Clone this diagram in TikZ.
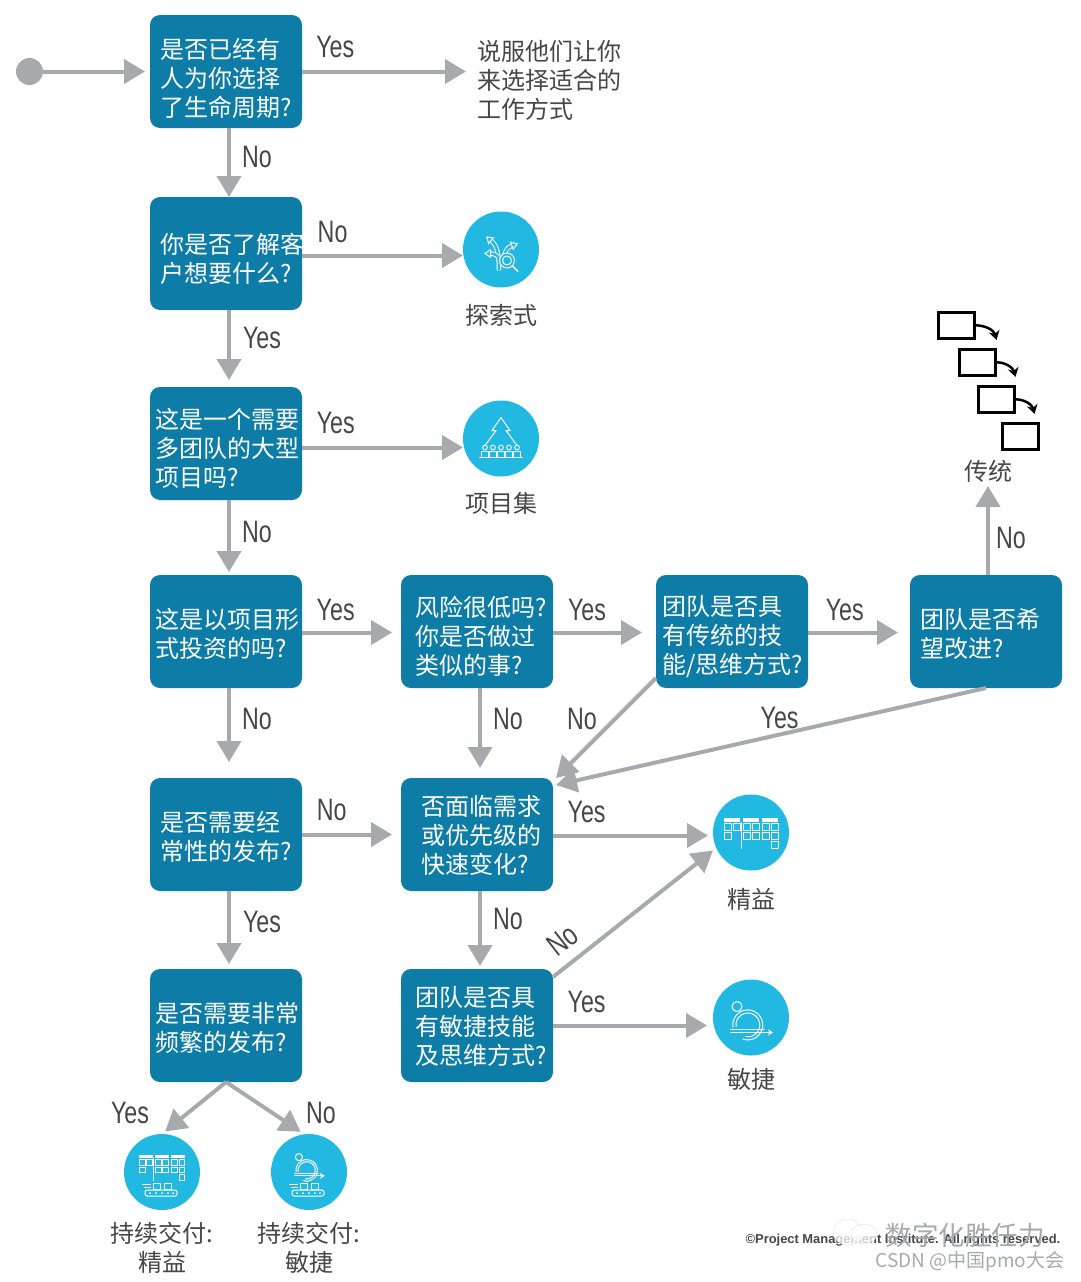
\documentclass[tikz,border=0pt]{standalone}
\usepackage{fontspec}
\setmainfont{Noto Sans CJK SC}
\newfontfamily\latinfont[FakeStretch=0.75]{Liberation Sans}
\newfontfamily\creditfont{Liberation Sans}
\usetikzlibrary{positioning, arrows.meta, calc}
\definecolor{boxblue}{RGB}{13,125,167}
\definecolor{iconblue}{RGB}{33,184,226}
\definecolor{arrowgray}{RGB}{167,169,172}
\definecolor{textgray}{RGB}{70,70,72}
\newcommand{\cjksize}{\fontsize{24}{29}\selectfont\lineskiplimit=-30pt\relax}

% Icons inside the round outcomes
\newcommand{\leanicon}[1]{\begin{scope}[#1, white, line width=1pt]
    \foreach \hx in {-27,-8,11} \fill (\hx pt,11pt) rectangle ++(16pt,3.5pt);
    \foreach \sx/\sy in {-27/2,-18/2,-27/-7,-8/2,1/2,-8/-7,1/-7,11/2,20/2,11/-7,20/-7,20/-16}
        \draw (\sx pt,\sy pt) rectangle ++(7pt,7pt);
    \draw (-10pt,11pt) -- (-10pt,-16pt);
\end{scope}}
\newcommand{\agileicon}[1]{\begin{scope}[#1, white, line width=1pt]
    \draw (-18pt,-10pt) arc[start angle=190, end angle=-110, radius=15pt];
    \draw (-15pt,-9.5pt) arc[start angle=190, end angle=-100, radius=12pt];
    \draw[fill=iconblue] (-14pt,11pt) circle (5pt);
    \draw[-{Stealth[length=5pt,width=6pt]}] (-21pt,-15pt) -- (22pt,-15pt);
    \draw (-21pt,-12pt) -- (14pt,-12pt);
\end{scope}}
\newcommand{\conveyoricon}[1]{\begin{scope}[#1, white, line width=1pt]
    \draw[rounded corners=2pt] (-17pt,-24pt) rectangle (15pt,-18pt);
    \foreach \dx in {-12,-6,0,6,11} \fill (\dx pt,-21pt) circle (1pt);
    \draw (-9pt,-17pt) rectangle ++(7pt,6pt);
    \draw (2pt,-17pt) rectangle ++(7pt,6pt);
    \draw[line width=.8pt] (-20pt,-12pt) -- (-11pt,-12pt) (-18pt,-15pt) -- (-11pt,-15pt);
\end{scope}}
\newcommand{\exploreicon}[1]{\begin{scope}[#1, white, line width=1pt, line join=round]
    \draw[double=iconblue, double distance=2.5pt, -{Triangle[open, length=7pt, width=9pt, fill=iconblue]}] (-2pt,-21pt) .. controls (-2pt,-4pt) and (-4pt,4pt) .. (-15pt,13pt);
    \draw[double=iconblue, double distance=2.5pt, -{Triangle[open, length=7pt, width=9pt, fill=iconblue]}] (3pt,-12pt) .. controls (3pt,-2pt) and (6pt,2pt) .. (17pt,6pt);
    \draw[double=iconblue, double distance=2.5pt, -{Triangle[open, length=7pt, width=9pt, fill=iconblue]}] (-3pt,-7pt) .. controls (-5pt,-5pt) and (-8pt,-4pt) .. (-17pt,-4pt);
    \draw[fill=iconblue] (6pt,-11pt) circle (7.5pt);
    \draw (6pt,-11pt) circle (4.5pt);
    \draw[line width=1.6pt] (11.5pt,-16.5pt) -- (17pt,-22pt);
\end{scope}}
\newcommand{\programicon}[1]{\begin{scope}[#1, white, line width=1pt, line join=round]
    \draw (-16pt,-7pt) -- (-5pt,8pt) -- (-9pt,8pt) -- (0pt,21pt) -- (9pt,8pt) -- (5pt,8pt) -- (16pt,-7pt);
    \foreach \px in {-16,-8,0,8,16} {
        \draw[line width=.9pt] (\px pt,-9pt) circle (2.4pt);
        \draw[line width=.9pt] (\px pt-3.5pt,-19pt) -- (\px pt-3.5pt,-13pt) -- (\px pt+3.5pt,-13pt) -- (\px pt+3.5pt,-19pt);
    }
    \draw (-22pt,-19pt) -- (22pt,-19pt);
\end{scope}}

\begin{document}
\begin{tikzpicture}[
    box/.style 2 args={draw=none, fill=boxblue, rectangle, rounded corners=10pt, text=white, outer sep=0pt,
        inner xsep=0pt, inner ysep=0pt, text width=152pt, minimum height=113pt, align=left,
        font=\cjksize, execute at begin node={\leftskip=#1pt\relax\hrule height 0pt\vskip#2pt\relax}},
    outcome/.style={circle, fill=iconblue, minimum size=76pt, inner sep=0pt, outer sep=0pt},
    caption/.style={text=textgray, inner sep=0pt, outer sep=0pt, align=center, font=\cjksize},
    lbl/.style={text=textgray, inner sep=0pt, font=\latinfont\fontsize{31}{31}\selectfont},
    arr/.style={-{Triangle[length=21pt,width=24pt]}, line width=4pt, draw=arrowgray},
    stage/.style={draw=black, line width=3pt, fill=white, minimum width=36pt, minimum height=26pt, inner sep=0pt, outer sep=1.5pt},
    bendarr/.style={-{Stealth[length=9pt,width=11pt]}, line width=2.5pt, draw=black}
]
    \useasboundingbox (0,0) rectangle (1080pt,-1282pt);

    % Main column of questions
    \node[box={10}{14}] (q1) at (226pt,-71.5pt) {是否已经有\\人为你选择\\了生命周期?};
    \node[box={10}{10}, below=69pt of q1] (q2) {你是否了解客\\户想要什么?};
    \node[box={5}{10}, below=77pt of q2] (q3) {这是一个需要\\多团队的大型\\项目吗?};
    \node[box={5}{4}, below=75pt of q3] (q4) {这是以项目形\\式投资的吗?};
    \node[box={10}{4}, below=90pt of q4] (q5) {是否需要经\\常性的发布?};
    \node[box={5}{4}, below=78pt of q5] (q6) {是否需要非常\\频繁的发布?};

    % Second row and column
    \node[box={14}{10}, right=99pt of q4] (r1) {风险很低吗?\\你是否做过\\类似的事?};
    \node[box={6}{10}, right=103pt of r1] (r2) {团队是否具\\有传统的技\\能/思维方式?};
    \node[box={10}{4}, right=102pt of r2] (r3) {团队是否希\\望改进?};
    \node[box={20}{2}, below=90pt of r1] (m1) {否面临需求\\或优先级的\\快速变化?};
    \node[box={14}{2}, below=78pt of m1] (m2) {团队是否具\\有敏捷技能\\及思维方式?};

    % Start and outcomes
    \node[circle, fill=arrowgray, minimum size=27pt, inner sep=0pt, outer sep=0pt, left=107pt of q1] (start) {};
    \node[caption, align=left, right=175pt of q1, yshift=-9pt] (persuade) {说服他们让你\\来选择适合的\\工作方式};
    \node[outcome, right=161pt of q2, yshift=4pt] (explore) {};
    \node[caption, below=17pt of explore] (explorecap) {探索式};
    \node[outcome, right=161pt of q3, yshift=5pt] (program) {};
    \node[caption, below=16pt of program] (programcap) {项目集};
    \node[outcome, right=160pt of m1, yshift=2pt] (lean) {};
    \node[caption, below=18pt of lean] (leancap) {精益};
    \node[outcome, right=160pt of m2, yshift=8pt] (agile) {};
    \node[caption, below=13pt of agile] (agilecap) {敏捷};
    \node[outcome, below=52pt of q6, xshift=-64pt] (cdlean) {};
    \node[caption, below=12.5pt of cdlean] (cdleancap) {持续交付:\\精益};
    \node[outcome, right=71pt of cdlean] (cdagile) {};
    \node[caption, below=12.5pt of cdagile] (cdagilecap) {持续交付:\\敏捷};

    \exploreicon{shift={(explore)}}
    \programicon{shift={(program)}}
    \leanicon{shift={(lean)}}
    \agileicon{shift={(agile)}}
    \leanicon{shift={($(cdlean)+(0,5pt)$)}, scale=.85}
    \conveyoricon{shift={(cdlean)}}
    \agileicon{shift={($(cdagile)+(0,7pt)$)}, scale=.72}
    \conveyoricon{shift={(cdagile)}}

    % Traditional stages
    \node[caption, above=93pt of r3, xshift=2pt] (tradcap) {传统};
    \node[stage, above=9pt of tradcap, xshift=32pt] (t4) {};
    \node[stage, above left=8pt and -15pt of t4] (t3) {};
    \node[stage, above left=8pt and -20pt of t3] (t2) {};
    \node[stage, above left=8pt and -18pt of t2] (t1) {};
    \draw[bendarr] (t1.east) to[out=0, in=105] ([yshift=8pt]t2.north east);
    \draw[bendarr] (t2.east) to[out=0, in=105] ([yshift=8pt]t3.north east);
    \draw[bendarr] (t3.east) to[out=0, in=105] ([shift={(-5pt,8pt)}]t4.north east);

    % Connectors of the main column
    \draw[arr, shorten >=5pt] (start) -- (q1);
    \draw[arr, shorten >=11pt] (q1.east) -- node[lbl, pos=.19, yshift=25pt] {Yes} (q1.east -| persuade.west);
    \draw[arr] ([xshift=3pt]q1.south) -- node[lbl, pos=.42, xshift=28pt] {No} ([xshift=3pt]q2.north);
    \draw[arr] ([yshift=-2pt]q2.east) -- node[lbl, pos=.19, yshift=24pt] {No} ([yshift=-2pt]q2.east -| explore.west);
    \draw[arr, shorten >=7pt] ([xshift=3pt]q2.south) -- node[lbl, pos=.36, xshift=33pt] {Yes} ([xshift=3pt]q3.north);
    \draw[arr] ([yshift=-4pt]q3.east) -- node[lbl, pos=.21, yshift=25pt] {Yes} ([yshift=-4pt]q3.east -| program.west);
    \draw[arr, shorten >=3pt] ([xshift=3pt]q3.south) -- node[lbl, pos=.43, xshift=28pt] {No} ([xshift=3pt]q4.north);
    \draw[arr, shorten >=16pt] ([xshift=3pt]q4.south) -- node[lbl, pos=.34, xshift=28pt] {No} ([xshift=3pt]q5.north);
    \draw[arr, shorten >=5pt] ([xshift=3pt]q5.south) -- node[lbl, pos=.40, xshift=33pt] {Yes} ([xshift=3pt]q6.north);
    \draw[arr, shorten >=4pt] (q6.south) -- node[lbl, pos=.5, shift={(-64pt,-5pt)}] {Yes} (cdlean.north);
    \draw[arr, shorten >=4pt] (q6.south) -- node[lbl, pos=.5, shift={(56pt,-5pt)}] {No} ([xshift=-5pt]cdagile.north);

    % Connectors of the second row
    \draw[arr, shorten >=9pt] ([yshift=-1pt]q4.east) -- node[lbl, pos=.34, yshift=23pt] {Yes} ([yshift=-1pt]r1.west);
    \draw[arr, shorten >=14pt] ([yshift=-1pt]r1.east) -- node[lbl, pos=.33, yshift=23pt] {Yes} ([yshift=-1pt]r2.west);
    \draw[arr, shorten >=12pt] ([yshift=-1pt]r2.east) -- node[lbl, pos=.36, yshift=23pt] {Yes} ([yshift=-1pt]r3.west);
    \draw[arr, shorten >=4pt] (tradcap.south |- r3.north) -- node[lbl, pos=.4, xshift=23pt] {No} (tradcap.south);
    \draw[arr, shorten >=10pt] ([xshift=3pt]r1.south) -- node[lbl, pos=.34, xshift=28pt] {No} ([xshift=3pt]m1.north);
    \draw[arr] ([yshift=10pt]r2.south west) -- node[lbl, pos=.41, xshift=-33pt] {No} ([xshift=3pt]m1.north east);
    \draw[arr] (r3.south) -- node[lbl, pos=.48, yshift=17pt] {Yes} ([shift={(3pt,-7pt)}]m1.north east);

    % Connectors of the middle column
    \draw[arr, shorten >=9pt] (q5.east) -- node[lbl, pos=.30, yshift=25pt] {No} (m1.west);
    \draw[arr, shorten >=5pt] ([yshift=-1pt]m1.east) -- node[lbl, pos=.21, yshift=24pt] {Yes} ([yshift=-1pt]m1.east -| lean.west);
    \draw[arr, shorten >=3pt] ([xshift=3pt]m1.south) -- node[lbl, pos=.36, xshift=28pt] {No} ([xshift=3pt]m2.north);
    \draw[arr] ([yshift=-8pt]m2.north east) -- node[lbl, pos=.06, yshift=29pt, rotate=38] {No} ([yshift=-18pt]lean.west);
    \draw[arr, shorten >=6pt] (m2.east) -- node[lbl, pos=.21, yshift=24pt] {Yes} (m2.east -| agile.west);

    % Credit line and marks
    \node[text=textgray, inner sep=0pt, font=\creditfont\bfseries\fontsize{12.9}{15}\selectfont] (credit) at (903pt,-1240pt) {©Project Management Institute. All rights reserved.};
    \draw[fill=white, fill opacity=.75, draw=arrowgray!40] (848pt,-1232pt) ellipse (15pt and 13pt);
    \draw[fill=white, fill opacity=.75, draw=arrowgray!40] (864pt,-1234pt) ellipse (13pt and 10pt);
    \node[text=arrowgray, inner sep=0pt, font=\fontsize{26.5}{28}\selectfont] (mark) at (965pt,-1235pt) {数字化胜任力};
    \node[text=arrowgray, inner sep=0pt, font=\fontsize{19}{21}\selectfont] (csdn) at (970pt,-1262pt) {CSDN @中国pmo大会};
\end{tikzpicture}
\end{document}
